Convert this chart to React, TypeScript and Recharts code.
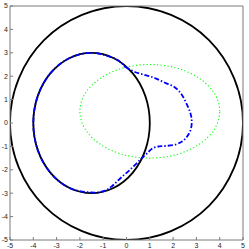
import React from 'react';
import { LineChart, Line, XAxis, YAxis } from 'recharts';

const ticks = [-5, -4, -3, -2, -1, 0, 1, 2, 3, 4, 5];

const outerCircle = [
  { x: 5, y: 0 }, { x: 4.62, y: 1.91 }, { x: 3.54, y: 3.54 }, { x: 1.91, y: 4.62 },
  { x: 0, y: 5 }, { x: -1.91, y: 4.62 }, { x: -3.54, y: 3.54 }, { x: -4.62, y: 1.91 },
  { x: -5, y: 0 }, { x: -4.62, y: -1.91 }, { x: -3.54, y: -3.54 }, { x: -1.91, y: -4.62 },
  { x: 0, y: -5 }, { x: 1.91, y: -4.62 }, { x: 3.54, y: -3.54 }, { x: 4.62, y: -1.91 },
];

const blackEllipse = [
  { x: 1.0, y: 0 }, { x: 0.81, y: 1.15 }, { x: 0.27, y: 2.12 }, { x: -0.54, y: 2.77 },
  { x: -1.5, y: 3.0 }, { x: -2.46, y: 2.77 }, { x: -3.27, y: 2.12 }, { x: -3.81, y: 1.15 },
  { x: -4.0, y: 0 }, { x: -3.81, y: -1.15 }, { x: -3.27, y: -2.12 }, { x: -2.46, y: -2.77 },
  { x: -1.5, y: -3.0 }, { x: -0.54, y: -2.77 }, { x: 0.27, y: -2.12 }, { x: 0.81, y: -1.15 },
];

const greenEllipse = [
  { x: 4.0, y: 0.5 }, { x: 3.77, y: 1.27 }, { x: 3.12, y: 1.91 }, { x: 2.15, y: 2.35 },
  { x: 1.0, y: 2.5 }, { x: -0.15, y: 2.35 }, { x: -1.12, y: 1.91 }, { x: -1.77, y: 1.27 },
  { x: -2.0, y: 0.5 }, { x: -1.77, y: -0.27 }, { x: -1.12, y: -0.91 }, { x: -0.15, y: -1.35 },
  { x: 1.0, y: -1.5 }, { x: 2.15, y: -1.35 }, { x: 3.12, y: -0.91 }, { x: 3.77, y: -0.27 },
];

const blueCurve = [
  { x: -0.06, y: 2.4 }, { x: 0.36, y: 2.18 }, { x: 0.8, y: 2.05 }, { x: 1.22, y: 1.92 },
  { x: 1.65, y: 1.72 }, { x: 2.08, y: 1.52 }, { x: 2.38, y: 1.2 }, { x: 2.6, y: 0.77 },
  { x: 2.75, y: 0.4 }, { x: 2.8, y: 0.05 }, { x: 2.75, y: -0.3 }, { x: 2.6, y: -0.58 },
  { x: 2.4, y: -0.78 }, { x: 2.1, y: -0.92 }, { x: 1.7, y: -0.98 }, { x: 1.4, y: -1.0 },
  { x: 1.12, y: -1.08 }, { x: 0.88, y: -1.3 }, { x: 0.58, y: -1.58 }, { x: 0.15, y: -2.0 },
  { x: -0.25, y: -2.35 }, { x: -0.6, y: -2.68 }, { x: -0.95, y: -2.9 }, { x: -1.5, y: -2.97 },
  { x: -2.46, y: -2.77 }, { x: -3.27, y: -2.12 }, { x: -3.81, y: -1.15 }, { x: -4.0, y: 0 },
  { x: -3.81, y: 1.15 }, { x: -3.27, y: 2.12 }, { x: -2.46, y: 2.77 }, { x: -1.5, y: 3.0 },
  { x: -0.54, y: 2.77 }, { x: -0.2, y: 2.55 },
];

// Closed Catmull-Rom curve factory (d3-shape curve interface)
function closedSmooth(context: any) {
  let pts: [number, number][] = [];
  return {
    areaStart() {},
    areaEnd() {},
    lineStart() { pts = []; },
    point(x: number, y: number) { pts.push([+x, +y]); },
    lineEnd() {
      const n = pts.length;
      if (n === 0) return;
      context.moveTo(pts[0][0], pts[0][1]);
      for (let i = 0; i < n; i++) {
        const p0 = pts[(i - 1 + n) % n];
        const p1 = pts[i];
        const p2 = pts[(i + 1) % n];
        const p3 = pts[(i + 2) % n];
        const c1x = p1[0] + (p2[0] - p0[0]) / 6;
        const c1y = p1[1] + (p2[1] - p0[1]) / 6;
        const c2x = p2[0] - (p3[0] - p1[0]) / 6;
        const c2y = p2[1] - (p3[1] - p1[1]) / 6;
        context.bezierCurveTo(c1x, c1y, c2x, c2y, p2[0], p2[1]);
      }
      context.closePath();
    },
  };
}

const tickStyle = { fontSize: 7, fontFamily: 'Liberation Sans, Arial, sans-serif', fill: '#262626' };
const axisColor = '#7a7a7a';

export default function App() {
  return (
    <div style={{ position: 'absolute', left: 0, top: 0, width: 249, height: 249, background: '#fff' }}>
      <LineChart width={249} height={249} margin={{ top: 0, right: 0, bottom: 0, left: 0 }}>
        <XAxis
          xAxisId="b" type="number" dataKey="x" domain={[-5, 5]} ticks={ticks} allowDataOverflow
          orientation="bottom" height={9} tickSize={-3} tickMargin={6}
          stroke={axisColor} tick={tickStyle} interval={0} tickFormatter={(v) => String(v)}
        />
        <XAxis
          xAxisId="t" type="number" dataKey="x" domain={[-5, 5]} ticks={ticks} allowDataOverflow
          orientation="top" height={6} tickSize={-3} stroke={axisColor} tick={false} interval={0}
        />
        <YAxis
          yAxisId="l" type="number" dataKey="y" domain={[-5, 5]} ticks={ticks} allowDataOverflow
          orientation="left" width={10} tickSize={-3} tickMargin={5}
          stroke={axisColor} tick={tickStyle} interval={0} tickFormatter={(v) => String(v)}
        />
        <YAxis
          yAxisId="r" type="number" dataKey="y" domain={[-5, 5]} ticks={ticks} allowDataOverflow
          orientation="right" width={6} tickSize={-3} stroke={axisColor} tick={false} interval={0}
        />
        <Line xAxisId="b" yAxisId="l" data={greenEllipse} dataKey="y" type={closedSmooth as any} stroke="#00ff00"
          strokeWidth={1.1} strokeDasharray="1.2 2.3" dot={false} isAnimationActive={false} />
        <Line xAxisId="b" yAxisId="l" data={outerCircle} dataKey="y" type={closedSmooth as any} stroke="#000"
          strokeWidth={1.8} dot={false} isAnimationActive={false} />
        <Line xAxisId="b" yAxisId="l" data={blackEllipse} dataKey="y" type={closedSmooth as any} stroke="#000"
          strokeWidth={1.8} dot={false} isAnimationActive={false} />
        <Line xAxisId="b" yAxisId="l" data={blueCurve} dataKey="y" type={closedSmooth as any} stroke="#0000ff"
          strokeWidth={1.8} strokeDasharray="5 2 1.5 2" dot={false} isAnimationActive={false} />
      </LineChart>
    </div>
  );
}
